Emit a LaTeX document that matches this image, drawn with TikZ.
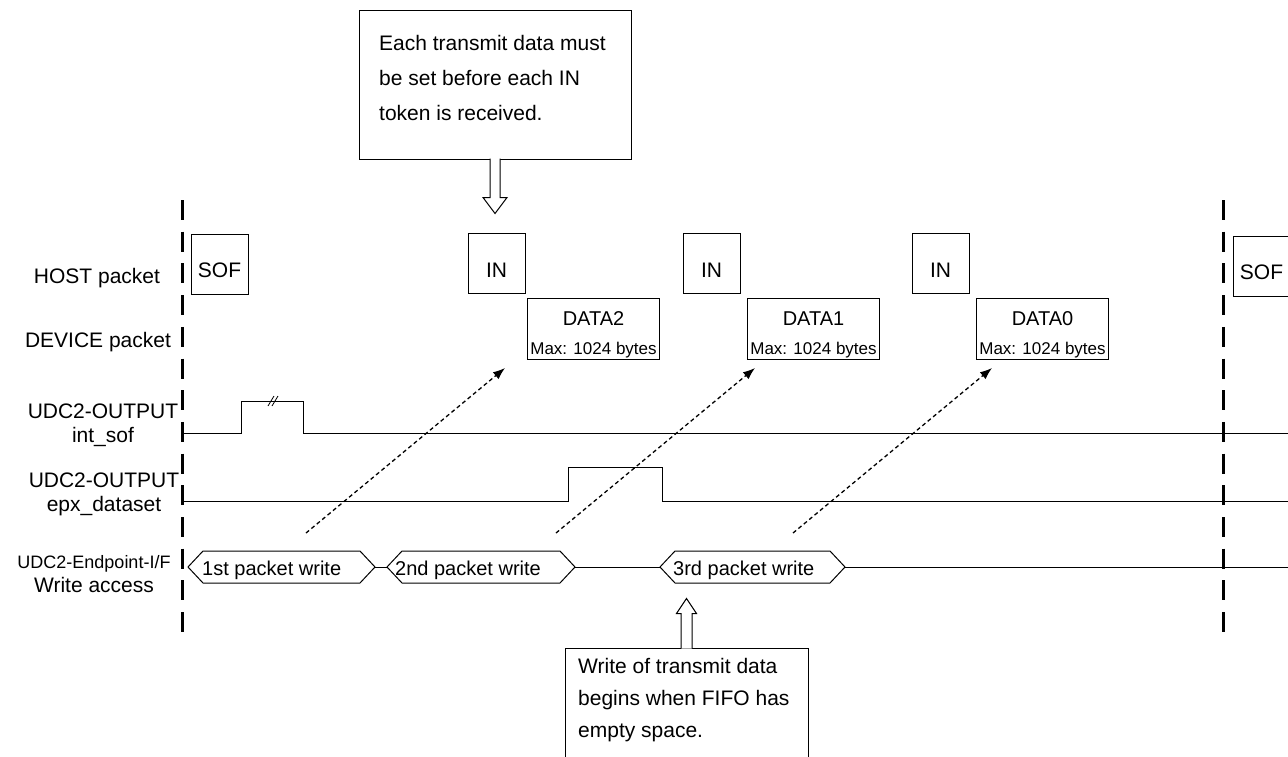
\documentclass[tikz,border=0pt]{standalone}
\usepackage{fontspec}
\setmainfont{Liberation Sans}
\usetikzlibrary{arrows.meta, positioning}

\begin{document}
\begin{tikzpicture}[
    x=1pt, y=-1pt,
    lbl/.style={font=\fontsize{21}{24}\selectfont, align=center, inner sep=0pt},
    pkt/.style={rectangle, draw=black, line width=1pt, minimum width=57pt, minimum height=60pt,
                inner sep=0pt, text height=27pt, text depth=0pt, font=\fontsize{21}{24}\selectfont},
    dbox/.style={rectangle, draw=black, line width=1pt, minimum width=132pt, minimum height=61pt, inner sep=0pt},
    dname/.style={font=\fontsize{20}{24}\selectfont, inner sep=0pt, anchor=base},
    dmax/.style={font=\fontsize{17}{20}\selectfont, inner sep=0pt, anchor=base},
    note/.style={rectangle, draw=black, line width=1pt, inner sep=0pt},
    notetxt/.style={align=left, inner sep=0pt, anchor=north west},
    sig/.style={line width=1pt},
    sync/.style={line width=3pt, dash pattern=on 20pt off 11.7pt},
    wr/.style={line width=1pt},
    wrtxt/.style={font=\fontsize{20}{24}\selectfont, inner sep=0pt, anchor=base west},
    arr/.style={-{Latex[length=12pt, width=9pt]}, line width=1.3pt, dash pattern=on 4pt off 3pt},
    hollow/.style={line width=1pt, fill=white},
]
\useasboundingbox (0,0) rectangle (1288,756);

% Signal names
\node[lbl, anchor=base] (host) at (97,283) {HOST packet};
\node[lbl, anchor=base] (dev) at (98,347) {DEVICE packet};
\node[lbl] (sofsig) at (103,425) {UDC2-OUTPUT\\int\_sof};
\node[lbl] (setsig) at (104,494) {UDC2-OUTPUT\\epx\_dataset};
\node[lbl] (wrsig) at (94,574) {\fontsize{18}{24}\selectfont UDC2-Endpoint-I/F\\\fontsize{21}{24}\selectfont Write access};

% Packets
\node[pkt] (sof1) at (219.5,264) {SOF};
\node[pkt] (in1) at (496.5,263.5) {IN};
\node[pkt] (in2) at (711.5,263.5) {IN};
\node[pkt] (in3) at (940.5,263.5) {IN};
\node[pkt] (sof2) at (1261.5,266) {SOF};

\node[dbox, below right=3.5pt and 1.5pt of in1.south east, anchor=north west] (data2) {};
\node[dbox, below right=3.5pt and 6.5pt of in2.south east, anchor=north west] (data1) {};
\node[dbox, below right=3.5pt and 6.5pt of in3.south east, anchor=north west] (data0) {};
\foreach \d in {2,1,0} {
  \node[dname] (data\d n) at ([yshift=-28pt]data\d.north) {DATA\d};
  \node[dmax] (data\d m) at ([yshift=-57pt]data\d.north) {Max: 1024 bytes};
}

% Waveforms
\draw[sig] (182,433) -- (241,433) -- (241,401) -- (303,401) -- (303,433) -- (1288,433);
\draw[line width=0.8pt] (268,406) -- (274,396) (272,406) -- (278,396);
\draw[sig] (182,501) -- (568,501) -- (568,467) -- (662,467) -- (662,501) -- (1288,501);

\draw[wr] (375,567) -- (387,567) (575,567) -- (660,567) (845,567) -- (1288,567);
\foreach \a/\b in {188/375, 387/575, 660/845}
  \draw[wr] (\a,567) -- (\a+15,551) -- (\b-15,551) -- (\b,567) -- (\b-15,583) -- (\a+15,583) -- cycle;
\node[wrtxt] (wr1) at (202,575) {1st packet write};
\node[wrtxt] (wr2) at (395,575) {2nd packet write};
\node[wrtxt] (wr3) at (673,575) {3rd packet write};

% Frame boundaries
\draw[sync] (182,200) -- (182,633);
\draw[sync] (1223,200) -- (1223,633);

% Write -> data
\foreach \x [count=\i] in {306,556,793} {
  \coordinate (ws\i) at (\x,533);
  \coordinate (wt\i) at (\x+199,368);
  \draw[arr] (ws\i) -- (wt\i);
}

% Notes
\node[note, minimum width=272pt, minimum height=149pt] (topnote) at (495,84.5) {};
\node[notetxt, font=\fontsize{21}{35}\selectfont] (toptxt) at (379,35)
  {Each transmit data must\\be set before each IN\\token is received.};
\draw[hollow] (topnote.south) ++(-5,-1) -- ++(0,39) -- ++(-7,0) -- ++(12,16) -- ++(12,-16) -- ++(-7,0) -- ++(0,-39);

\node[note, minimum width=243pt, minimum height=114pt] (botnote) at (686.5,705) {};
\node[notetxt, font=\fontsize{21}{32}\selectfont] (bottxt) at (578,658)
  {Write of transmit data\\begins when FIFO has\\empty space.};
\draw[hollow] (botnote.north) ++(-5.5,1) -- ++(0,-35) -- ++(-4.5,0) -- ++(10,-15) -- ++(10,15) -- ++(-4.5,0) -- ++(0,35);

\end{tikzpicture}
\end{document}
